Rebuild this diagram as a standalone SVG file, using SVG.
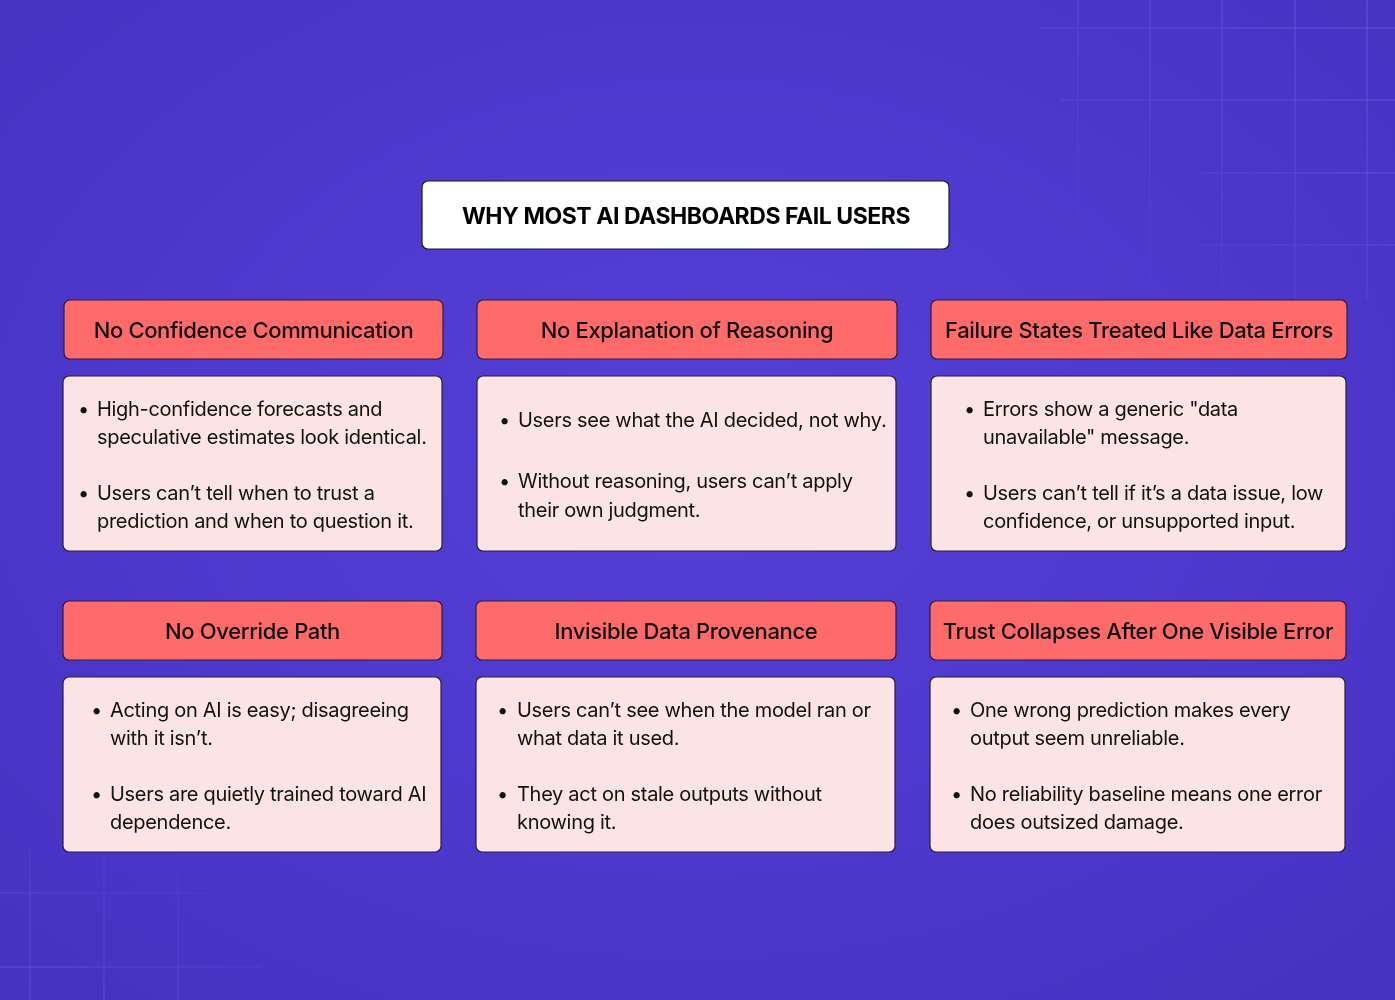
<svg xmlns="http://www.w3.org/2000/svg" width="1395" height="1000" viewBox="0 0 1395 1000">
<defs>
<radialGradient id="bg" cx="0.5" cy="0.45" r="0.75">
<stop offset="0" stop-color="#5540D8"/>
<stop offset="1" stop-color="#4731C2"/>
</radialGradient>
<linearGradient id="fadeTR" x1="1" y1="0" x2="0" y2="1">
<stop offset="0" stop-color="#fff" stop-opacity="1"/>
<stop offset="0.7" stop-color="#fff" stop-opacity="0.3"/>
<stop offset="1" stop-color="#fff" stop-opacity="0"/>
</linearGradient>
<mask id="mTR"><rect x="1040" y="0" width="355" height="300" fill="url(#fadeTR)"/></mask>
<linearGradient id="fadeBL" x1="0" y1="1" x2="1" y2="0">
<stop offset="0" stop-color="#fff" stop-opacity="0.8"/>
<stop offset="1" stop-color="#fff" stop-opacity="0"/>
</linearGradient>
<mask id="mBL"><rect x="0" y="850" width="260" height="150" fill="url(#fadeBL)"/></mask>
</defs>
<style>
.grid line{stroke:#7A66F0;stroke-width:1.5;opacity:0.45}
.hdr rect{fill:#FF6B6B;stroke:#2A1E3A;stroke-width:1.2}
.body rect{fill:#FDE4E4;stroke:#2A1E3A;stroke-width:1.2}
.ht{font-family:Inter,"Noto Sans",sans-serif;font-size:22px;font-weight:500;fill:#111;text-anchor:middle;letter-spacing:-0.35px}
.bt{font-family:Inter,"Noto Sans",sans-serif;font-size:20px;font-weight:400;fill:#111;letter-spacing:-0.3px}
.title{font-family:Inter,"Noto Sans",sans-serif;font-size:23px;font-weight:700;fill:#000;text-anchor:middle;letter-spacing:-0.45px}
</style>
<rect width="1395" height="1000" fill="url(#bg)"/>
<g class="grid" mask="url(#mTR)">
<line x1="1078" y1="0" x2="1078" y2="290"/>
<line x1="1150" y1="0" x2="1150" y2="290"/>
<line x1="1222" y1="0" x2="1222" y2="290"/>
<line x1="1295" y1="0" x2="1295" y2="300"/>
<line x1="1367" y1="0" x2="1367" y2="300"/>
<line x1="1040" y1="28" x2="1395" y2="28"/>
<line x1="1060" y1="100" x2="1395" y2="100"/>
<line x1="1200" y1="173" x2="1395" y2="173"/>
<line x1="1200" y1="245" x2="1395" y2="245"/>
</g>
<g class="grid" mask="url(#mBL)">
<line x1="0" y1="893" x2="260" y2="893"/>
<line x1="0" y1="967" x2="260" y2="967"/>
<line x1="30" y1="850" x2="30" y2="1000"/>
<line x1="104" y1="850" x2="104" y2="1000"/>
<line x1="178" y1="850" x2="178" y2="1000"/>
</g>
<g id="connectors"></g>
<g id="title">
<rect x="422" y="181" width="527" height="68" rx="6" fill="#fff" stroke="#1a1a2e" stroke-width="1.2"/>
<text class="title" x="686" y="224">WHY MOST AI DASHBOARDS FAIL USERS</text>
</g>
<g id="h1" class="hdr"><rect x="64" y="300" width="379" height="59" rx="6"/><text class="ht" x="253.5" y="338">No Confidence Communication</text></g>
<g id="h2" class="hdr"><rect x="477" y="300" width="420" height="59" rx="6"/><text class="ht" x="687" y="338">No Explanation of Reasoning</text></g>
<g id="h3" class="hdr"><rect x="931" y="300" width="416" height="59" rx="6"/><text class="ht" x="1139" y="338">Failure States Treated Like Data Errors</text></g>
<g id="b1" class="body"><rect x="63" y="376" width="379" height="175" rx="6"/>
<text class="bt" x="78" y="416">•</text><text class="bt" x="97" y="416">High-confidence forecasts and</text><text class="bt" x="97" y="444">speculative estimates look identical.</text>
<text class="bt" x="78" y="500">•</text><text class="bt" x="97" y="500">Users can’t tell when to trust a</text><text class="bt" x="97" y="528">prediction and when to question it.</text>
</g>
<g id="b2" class="body"><rect x="477" y="376" width="419" height="175" rx="6"/>
<text class="bt" x="499" y="427">•</text><text class="bt" x="518" y="427">Users see what the AI decided, not why.</text>
<text class="bt" x="499" y="488">•</text><text class="bt" x="518" y="488">Without reasoning, users can’t apply</text><text class="bt" x="518" y="517">their own judgment.</text>
</g>
<g id="b3" class="body"><rect x="931" y="376" width="415" height="175" rx="6"/>
<text class="bt" x="964" y="416">•</text><text class="bt" x="983" y="416">Errors show a generic "data</text><text class="bt" x="983" y="444">unavailable" message.</text>
<text class="bt" x="964" y="500">•</text><text class="bt" x="983" y="500">Users can’t tell if it’s a data issue, low</text><text class="bt" x="983" y="528">confidence, or unsupported input.</text>
</g>
<g id="h4" class="hdr"><rect x="63" y="601" width="379" height="59" rx="6"/><text class="ht" x="252.5" y="639">No Override Path</text></g>
<g id="h5" class="hdr"><rect x="476" y="601" width="420" height="59" rx="6"/><text class="ht" x="686" y="639">Invisible Data Provenance</text></g>
<g id="h6" class="hdr"><rect x="930" y="601" width="416" height="59" rx="6"/><text class="ht" x="1138" y="639">Trust Collapses After One Visible Error</text></g>
<g id="b4" class="body"><rect x="63" y="677" width="378" height="175" rx="6"/>
<text class="bt" x="91" y="717">•</text><text class="bt" x="110" y="717">Acting on AI is easy; disagreeing</text><text class="bt" x="110" y="745">with it isn’t.</text>
<text class="bt" x="91" y="801">•</text><text class="bt" x="110" y="801">Users are quietly trained toward AI</text><text class="bt" x="110" y="829">dependence.</text>
</g>
<g id="b5" class="body"><rect x="476" y="677" width="419" height="175" rx="6"/>
<text class="bt" x="497" y="717">•</text><text class="bt" x="517" y="717">Users can’t see when the model ran or</text><text class="bt" x="517" y="745">what data it used.</text>
<text class="bt" x="497" y="801">•</text><text class="bt" x="517" y="801">They act on stale outputs without</text><text class="bt" x="517" y="829">knowing it.</text>
</g>
<g id="b6" class="body"><rect x="930" y="677" width="415" height="175" rx="6"/>
<text class="bt" x="951" y="717">•</text><text class="bt" x="970" y="717">One wrong prediction makes every</text><text class="bt" x="970" y="745">output seem unreliable.</text>
<text class="bt" x="951" y="801">•</text><text class="bt" x="970" y="801">No reliability baseline means one error</text><text class="bt" x="970" y="829">does outsized damage.</text>
</g>
</svg>
